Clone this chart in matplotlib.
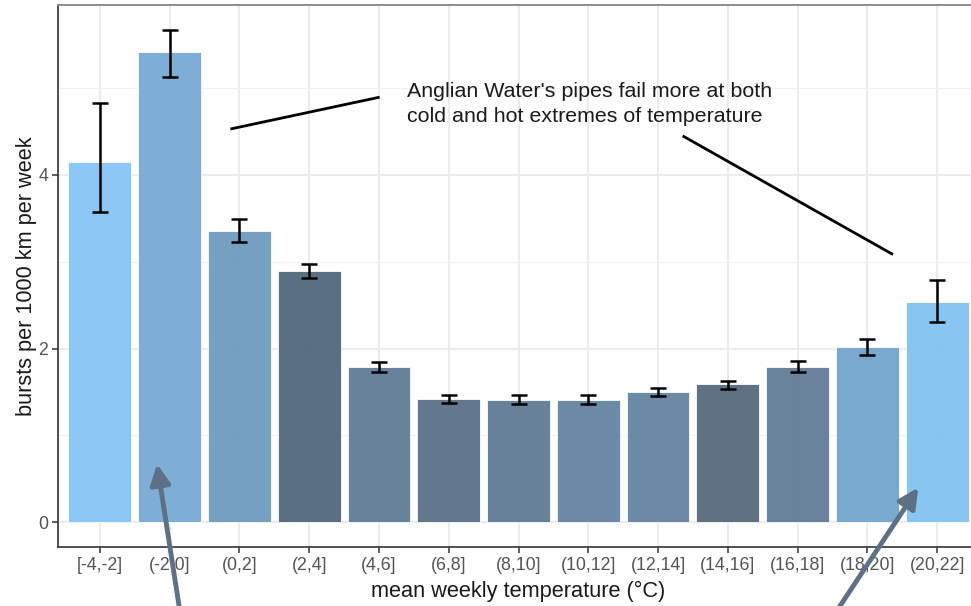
import numpy as np
import matplotlib
matplotlib.use("Agg")
import matplotlib.pyplot as plt

plt.rcParams['font.family'] = ['Liberation Sans', 'DejaVu Sans']

# weekly burst rates by temperature band
temp_bins = ["[-4,-2]", "(-2,0]", "(0,2]", "(2,4]", "(4,6]", "(6,8]", "(8,10]",
             "(10,12]", "(12,14]", "(14,16]", "(16,18]", "(18,20]", "(20,22]"]
bursts = [4.15, 5.41, 3.35, 2.89, 1.79, 1.42, 1.41, 1.41, 1.50, 1.59, 1.79, 2.02, 2.54]
err_low = [3.57, 5.13, 3.23, 2.81, 1.73, 1.37, 1.36, 1.36, 1.45, 1.53, 1.73, 1.93, 2.31]
err_high = [4.83, 5.67, 3.49, 2.97, 1.84, 1.46, 1.46, 1.46, 1.55, 1.63, 1.86, 2.11, 2.79]
bar_colors = ["#88C6F6", "#7AABD4", "#709DC0", "#566A7E", "#637E98", "#5E738A",
              "#627D96", "#6786A3", "#6785A2", "#5A6D80", "#647F99", "#76A6CF",
              "#84C3F0"]

note = "Anglian Water's pipes fail more at both\ncold and hot extremes of temperature"

fig = plt.figure(figsize=(9.71, 6.06), dpi=100)
ax = fig.add_axes([58 / 971, 1 - 547 / 606, 921 / 971, 542 / 606])

x = np.arange(1, len(temp_bins) + 1)
vals = np.array(bursts)
lo = vals - np.array(err_low)
hi = np.array(err_high) - vals

ax.bar(x, vals, width=0.9, color=bar_colors, edgecolor="#FFFFFF", linewidth=0.6,
       alpha=0.97, zorder=2)
ax.errorbar(x, vals, yerr=[lo, hi], fmt="none", ecolor="black", elinewidth=1.8,
            capsize=6, capthick=1.8, zorder=3)

ax.set_xlim(0.4, 13.6)
ax.set_ylim(-0.284, 5.954)
ax.set_xticks(x)
ax.set_xticklabels(temp_bins)
ax.set_yticks([0, 2, 4])
ax.set_yticks([1, 3, 5], minor=True)

ax.grid(True, which="major", color="#EBEBEB", linewidth=1.3, zorder=0)
ax.grid(True, which="minor", axis="y", color="#F2F2F2", linewidth=0.8, zorder=0)
ax.set_axisbelow(True)

ax.tick_params(axis="both", which="major", labelsize=12.8, labelcolor="#555555",
               color="#333333", length=4, width=1.1, pad=3)
ax.tick_params(axis="y", which="minor", length=0)

for side in ["left", "bottom"]:
    ax.spines[side].set_color("#333333")
    ax.spines[side].set_linewidth(1.2)
ax.spines["top"].set_color("#8C8C8C")
ax.spines["top"].set_linewidth(1.4)
ax.spines["right"].set_visible(False)

ax.set_xlabel("mean weekly temperature (°C)", fontsize=15.7, color="#1A1A1A",
              labelpad=5)
ax.set_ylabel("bursts per 1000 km per week", fontsize=15.7, color="#1A1A1A",
              labelpad=1)

# callout text with pointer lines to the cold and hot ends
ax.text(5.40, 5.07, note, fontsize=15.4, color="#1A1A1A", va="top", ha="left",
        linespacing=1.4, zorder=4)
ax.plot([2.89, 4.99], [4.53, 4.89], color="black", linewidth=2, zorder=4)
ax.plot([9.37, 12.35], [4.44, 3.09], color="black", linewidth=2, zorder=4)

# arrows coming up from below the chart
arrow_style = dict(arrowstyle="-|>,head_length=1.2,head_width=0.6",
                   color="#5E7086", linewidth=3.5, shrinkA=0, shrinkB=0)
ax.annotate("", xy=(1.82, 0.67), xycoords="data", xytext=(180 / 971, -0.01),
            textcoords="figure fraction", arrowprops=arrow_style,
            annotation_clip=False, zorder=5)
ax.annotate("", xy=(12.73, 0.40), xycoords="data", xytext=(836 / 971, -0.01),
            textcoords="figure fraction", arrowprops=arrow_style,
            annotation_clip=False, zorder=5)

fig.savefig("out.png", dpi=100, facecolor="white")
